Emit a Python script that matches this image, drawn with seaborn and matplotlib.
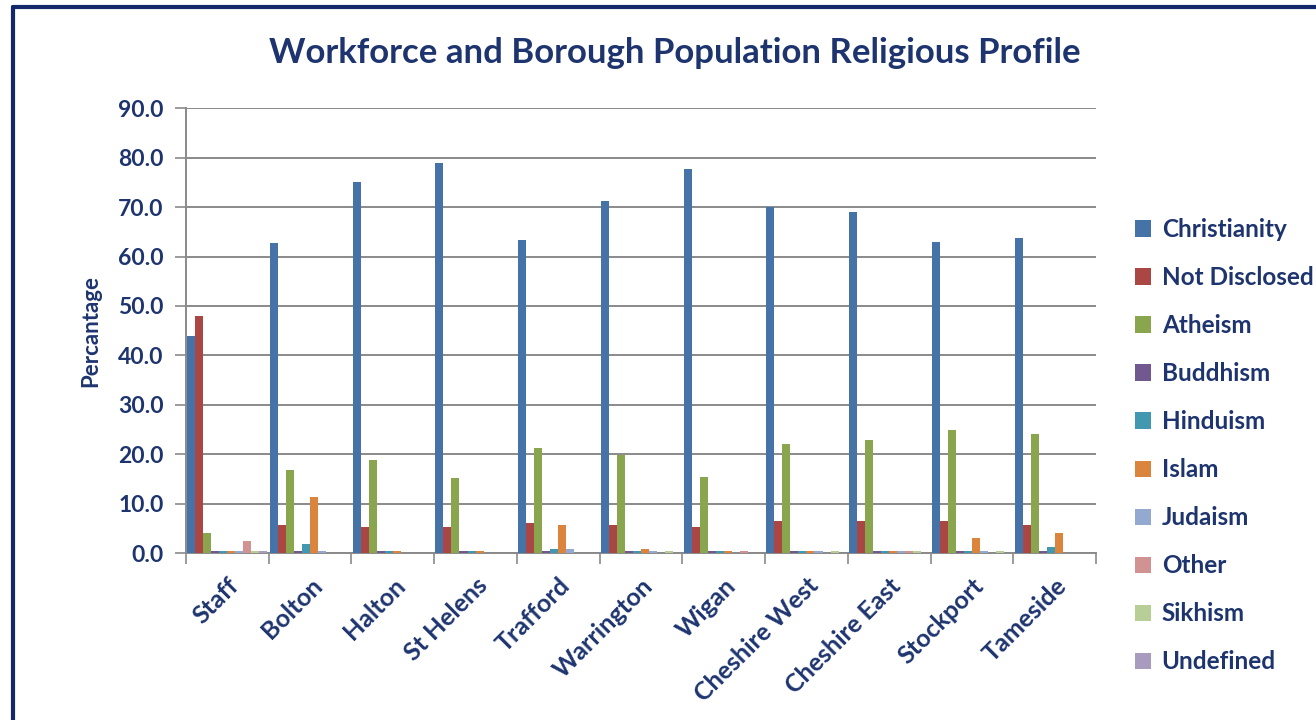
import numpy as np
import pandas as pd
import matplotlib
matplotlib.use("Agg")
import matplotlib.pyplot as plt
import seaborn as sns
from matplotlib.lines import Line2D

areas = ["Staff", "Bolton", "Halton", "St Helens", "Trafford", "Warrington",
         "Wigan", "Cheshire West", "Cheshire East", "Stockport", "Tameside"]
religions = ["Christianity", "Not Disclosed", "Atheism", "Buddhism", "Hinduism",
             "Islam", "Judaism", "Other", "Sikhism", "Undefined"]

christianity = [44.0, 62.7, 75.0, 79.0, 63.4, 71.3, 77.8, 70.0, 69.0, 63.0, 63.8]
not_disclosed = [48.0, 5.7, 5.2, 5.2, 6.0, 5.7, 5.2, 6.5, 6.5, 6.5, 5.7]
atheism = [4.0, 16.7, 18.8, 15.1, 21.2, 19.9, 15.4, 22.0, 22.8, 24.9, 24.1]
buddhism = [0.5, 0.5, 0.5, 0.5, 0.5, 0.5, 0.5, 0.5, 0.5, 0.5, 0.5]
hinduism = [0.5, 1.9, 0.5, 0.5, 0.9, 0.5, 0.5, 0.5, 0.5, 0.5, 1.3]
islam = [0.5, 11.4, 0.5, 0.5, 5.6, 0.9, 0.5, 0.5, 0.5, 3.1, 4.0]
judaism = [0.5, 0.5, 0.0, 0.0, 0.9, 0.5, 0.0, 0.5, 0.5, 0.5, 0.0]
other = [2.4, 0.0, 0.0, 0.0, 0.0, 0.0, 0.5, 0.0, 0.5, 0.0, 0.0]
sikhism = [0.5, 0.0, 0.0, 0.0, 0.0, 0.5, 0.0, 0.5, 0.5, 0.5, 0.0]
undefined = [0.5, 0.0, 0.0, 0.0, 0.0, 0.0, 0.0, 0.0, 0.0, 0.0, 0.0]

series = [christianity, not_disclosed, atheism, buddhism, hinduism,
          islam, judaism, other, sikhism, undefined]
colors = ["#4572A7", "#AA4643", "#89A54E", "#71588F", "#4198AF",
          "#DB843D", "#93A9CF", "#D19392", "#B9CD96", "#A99BBD"]

rows = []
for rel, vals in zip(religions, series):
    for a, v in zip(areas, vals):
        rows.append({"Area": a, "Religion": rel, "Percentage": v})
df = pd.DataFrame(rows)

sns.set_theme(style="white")
plt.rcParams["font.family"] = ["Lato", "DejaVu Sans"]
plt.rcParams["font.weight"] = "bold"

navy = "#1D346F"
grid_c = "#8A8A8A"

fig = plt.figure(figsize=(13.16, 7.2), dpi=100)
fig.patch.set_facecolor("white")
ax = fig.add_axes([186/1316, 1 - 553/720, (1096-186)/1316, (553-108.3)/720])

sns.barplot(data=df, x="Area", y="Percentage", hue="Religion",
            order=areas, hue_order=religions, palette=colors,
            width=0.97, saturation=1, errorbar=None, ax=ax,
            linewidth=0, zorder=3)

ax.set_ylim(0, 90)
ax.set_xlim(-0.5, len(areas) - 0.5)
ax.set_yticks(np.arange(0, 91, 10))
ax.set_yticklabels([f"{v:.1f}" for v in np.arange(0, 91, 10)],
                   fontsize=16.5, fontweight="bold", color=navy)
ax.yaxis.grid(True, color=grid_c, linewidth=1.4, zorder=0)
ax.set_axisbelow(True)
ax.tick_params(axis="y", which="major", length=8, width=1.2, color=grid_c,
               left=True, pad=8)

ax.set_xticks(np.arange(len(areas)))
ax.set_xticklabels(areas, rotation=45, ha="right", rotation_mode="anchor",
                   fontsize=18, fontweight="bold", color=navy)
ax.tick_params(axis="x", which="major", length=0, pad=15)
ax.set_xticks(np.arange(-0.5, len(areas), 1.0), minor=True)
ax.tick_params(axis="x", which="minor", length=8, width=1.2, color=grid_c,
               bottom=True)

for s in ["top", "right"]:
    ax.spines[s].set_visible(False)
for s in ["left", "bottom"]:
    ax.spines[s].set_color(grid_c)
    ax.spines[s].set_linewidth(1.4)
    ax.spines[s].set_zorder(1)

ax.set_xlabel("")
ax.set_ylabel("Percantage", fontsize=16, fontweight="bold", color=navy,
              labelpad=12)

handles, labels = ax.get_legend_handles_labels()
ax.legend(handles, labels, loc="upper left",
          bbox_to_anchor=(1135/1316, 1 - 218/720), bbox_transform=fig.transFigure,
          frameon=False, fontsize=17.5, labelcolor=navy,
          handlelength=0.65, handleheight=0.65, handletextpad=0.45,
          labelspacing=1.03, borderaxespad=0, borderpad=0)
for t in ax.get_legend().get_texts():
    t.set_fontweight("bold")

fig.text(675/1316, 1 - 53/720, "Workforce and Borough Population Religious Profile",
         ha="center", va="center", fontsize=25, fontweight="bold", color=navy)

# chart border
fig.add_artist(Line2D([13/1316, 13/1316], [0, 1 - 7/720], transform=fig.transFigure,
                      color="#13296B", linewidth=3))
fig.add_artist(Line2D([13/1316, 1], [1 - 7/720, 1 - 7/720], transform=fig.transFigure,
                      color="#13296B", linewidth=3))

fig.savefig("out.png", dpi=100)
